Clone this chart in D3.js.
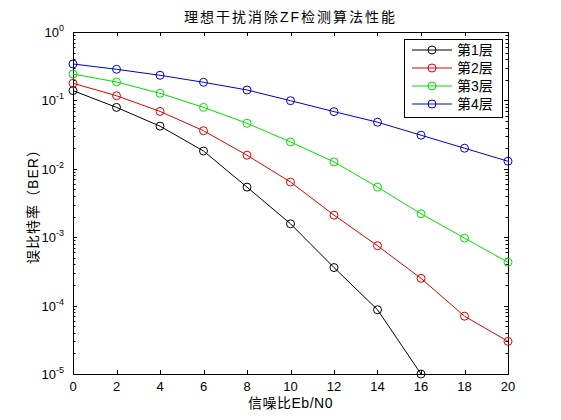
<!DOCTYPE html>
<html>
<head>
<meta charset="utf-8">
<script src="https://cdn.jsdelivr.net/npm/d3@7"></script>
<style>
  body { margin: 0; background: #fff; }
  text { font-family: "Liberation Sans", "Noto Sans CJK SC", sans-serif; }
</style>
</head>
<body>
<script>
// Data
const snr = [0, 2, 4, 6, 8, 10, 12, 14, 16, 18, 20];
const seriesNames = ['第1层', '第2层', '第3层', '第4层'];
const ber1 = [0.139, 0.079, 0.042, 0.0182, 0.0054, 0.00157, 3.6e-4, 8.7e-5, 1.0e-5];
const ber2 = [0.178, 0.117, 0.069, 0.036, 0.0158, 0.0064, 0.0021, 7.5e-4, 2.5e-4, 7.0e-5, 3.0e-5];
const ber3 = [0.243, 0.186, 0.127, 0.079, 0.0463, 0.0247, 0.0126, 0.0054, 0.0022, 9.7e-4, 4.3e-4];
const ber4 = [0.341, 0.285, 0.233, 0.184, 0.142, 0.099, 0.0685, 0.048, 0.031, 0.020, 0.0129];
const xTicks = [0, 2, 4, 6, 8, 10, 12, 14, 16, 18, 20];
const yExponents = [0, -1, -2, -3, -4, -5];

const colors = ['#000000', '#e00000', '#00e000', '#0000d0'];

// SVG setup
const width = 561;
const height = 420;
const plotLeft = 73, plotRight = 508, plotTop = 32, plotBottom = 374;

const svg = d3.select('body')
.append('svg')
.attr('width', width)
.attr('height', height);

svg.append('rect')
.attr('width', width)
.attr('height', height)
.attr('fill', '#fff');

const xScale = d3.scaleLinear().domain([0, 20]).range([plotLeft, plotRight]);
const yScale = d3.scaleLog().domain([1e-5, 1]).range([plotBottom, plotTop]);

// Ticks (inward, MATLAB style)
const ticks = svg.append('g').attr('stroke', '#000').attr('stroke-width', 1);
xTicks.forEach(t => {
    const x = Math.round(xScale(t)) + 0.5;
    ticks.append('line').attr('x1', x).attr('x2', x).attr('y1', plotBottom).attr('y2', plotBottom - 4);
    ticks.append('line').attr('x1', x).attr('x2', x).attr('y1', plotTop).attr('y2', plotTop + 4);
});
for (let e = -5; e < 0; e++) {
    for (let m = 1; m < 10; m++) {
        const v = m * Math.pow(10, e);
        const y = Math.round(yScale(v)) + 0.5;
        const len = m === 1 ? 4 : 2.5;
        ticks.append('line').attr('x1', plotLeft).attr('x2', plotLeft + len).attr('y1', y).attr('y2', y);
        ticks.append('line').attr('x1', plotRight).attr('x2', plotRight - len).attr('y1', y).attr('y2', y);
    }
}

// Frame
svg.append('rect')
.attr('x', plotLeft + 0.5)
.attr('y', plotTop + 0.5)
.attr('width', plotRight - plotLeft)
.attr('height', plotBottom - plotTop)
.attr('fill', 'none')
.attr('stroke', '#000');

// X tick labels
svg.selectAll('.xlab')
.data(xTicks)
.enter()
.append('text')
.attr('x', d => xScale(d))
.attr('y', plotBottom + 17)
.attr('text-anchor', 'middle')
.attr('font-size', '13px')
.text(d => d);

// Y tick labels 10^k
const ylab = svg.selectAll('.ylab')
.data(yExponents)
.enter()
.append('text')
.attr('x', plotLeft - 9)
.attr('y', d => yScale(Math.pow(10, d)) + 5)
.attr('text-anchor', 'end')
.attr('font-size', '13px');
ylab.append('tspan').text('10');
ylab.append('tspan')
.attr('dy', -6)
.attr('font-size', '9px')
.text(d => d);

// Series
const series = [ber1, ber2, ber3, ber4];
const line = d3.line()
.x((d, i) => xScale(snr[i]))
.y(d => yScale(d));

series.forEach((vals, k) => {
    svg.append('path')
    .attr('d', line(vals))
    .attr('fill', 'none')
    .attr('stroke', colors[k])
    .attr('stroke-width', 1);

    svg.selectAll('.pt' + k)
    .data(vals)
    .enter()
    .append('circle')
    .attr('cx', (d, i) => xScale(snr[i]))
    .attr('cy', d => yScale(d))
    .attr('r', 4)
    .attr('fill', 'none')
    .attr('stroke', colors[k])
    .attr('stroke-width', 1);
});

// Legend
const legend = svg.append('g');
legend.append('rect')
.attr('x', 404.5)
.attr('y', 39.5)
.attr('width', 98)
.attr('height', 78)
.attr('fill', '#fff')
.attr('stroke', '#000');

seriesNames.forEach((name, k) => {
    const y = 50 + k * 18;
    legend.append('line')
    .attr('x1', 412).attr('x2', 452)
    .attr('y1', y).attr('y2', y)
    .attr('stroke', colors[k]);
    legend.append('circle')
    .attr('cx', 432).attr('cy', y).attr('r', 4)
    .attr('fill', 'none')
    .attr('stroke', colors[k]);
    legend.append('text')
    .attr('x', 457)
    .attr('y', y + 5)
    .attr('font-size', '14px')
    .text(name);
});

// Title and axis labels
svg.append('text')
.attr('x', (plotLeft + plotRight) / 2)
.attr('y', 22)
.attr('text-anchor', 'middle')
.attr('font-size', '14px')
.attr('letter-spacing', '2px')
.text('理想干扰消除ZF检测算法性能');

svg.append('text')
.attr('x', (plotLeft + plotRight) / 2)
.attr('y', 408)
.attr('text-anchor', 'middle')
.attr('font-size', '14px')
.attr('letter-spacing', '0.5px')
.text('信噪比Eb/N0');

svg.append('text')
.attr('transform', `translate(38, ${(plotTop + plotBottom) / 2}) rotate(-90)`)
.attr('text-anchor', 'middle')
.attr('font-size', '14px')
.attr('letter-spacing', '1px')
.text('误比特率（BER）');
</script>
</body>
</html>
